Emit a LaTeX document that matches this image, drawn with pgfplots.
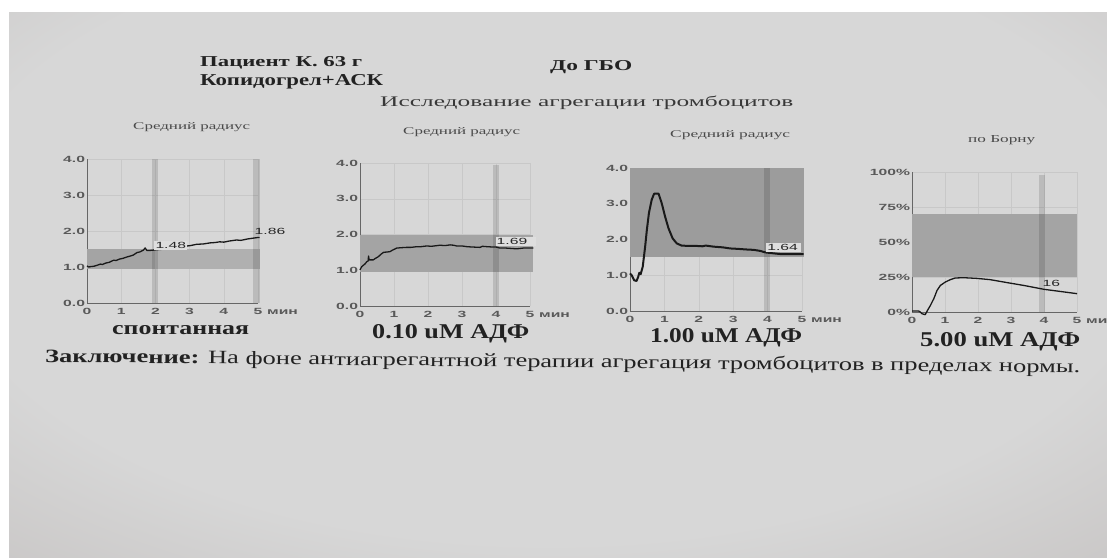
\documentclass[border=0pt]{standalone}
\usepackage{fontspec}
\setmainfont{Liberation Serif}
\newfontfamily\ticksf[FakeStretch=1.75]{Liberation Sans}
\usepackage{graphicx}
\usepackage{pgfplots}
\pgfplotsset{compat=1.18}

\definecolor{ink}{HTML}{222222}
\definecolor{softink}{HTML}{4A4A4A}
\definecolor{paperC}{HTML}{D7D7D7}
\definecolor{paperM}{HTML}{BEBAB9}
\definecolor{paperE}{HTML}{9A9393}
\definecolor{band}{HTML}{A4A4A4}
\definecolor{bandL}{HTML}{B0B0B0}
\definecolor{labelbg}{HTML}{DEDEDE}
\definecolor{gridc}{HTML}{C8C8C8}

\pgfdeclareradialshading{paper}{\pgfpoint{0bp}{0bp}}{%
  color(0bp)=(paperC); color(20bp)=(paperC); color(36bp)=(paperM); color(50bp)=(paperE)}

% text fitted to a measured box: width, height, content
\newcommand\fit[3]{\resizebox{#1bp}{#2bp}{#3}}
\newcommand\tickfont{\ticksf\bfseries\fontsize{9}{10}\selectfont}
\newcommand\valfont{\ticksf\fontsize{9}{10}\selectfont}

\tikzset{
  valbox/.style={fill=labelbg, inner sep=1.2bp, font=\valfont, text=black!85},
  minlabel/.style={anchor=base west, inner sep=0, font=\tickfont, text=black!65},
}
\pgfplotsset{
  agg/.style={
    scale only axis, anchor=south west,
    xmin=0, xmax=5, xtick={0,1,2,3,4,5}, xticklabels={0,1,2,3,4,5},
    axis lines*=left,
    axis line style={draw=black!60, line width=0.6bp},
    major tick length=0pt,
    grid=major,
    major grid style={draw=gridc, line width=0.5bp},
    tick label style={font=\tickfont, text=black!65},
    xticklabel style={anchor=base, yshift=-11bp},
    yticklabel style={xshift=1.5bp},
    clip=false,
  },
  trace/.style={draw=black!90, line width=1.3bp, line join=round},
  vbar/.style={fill=black, fill opacity=0.13, draw=none},
}

\begin{document}
\begin{tikzpicture}[x=1bp, y=-1bp]
\useasboundingbox (0,0) rectangle (1107,558);
\clip (0,0) rectangle (1107,558);
% sheet of paper with uneven lighting
\shade[shading=paper] (-200,-150) rectangle (1300,620);
\fill[white] (0,0) rectangle (1107,12);
\fill[white] (0,0) rectangle (9,558);

% header
\node[anchor=base west, inner sep=0, text=ink] at (200,67) {\fit{162}{10}{\bfseries Пациент К. 63 г}};
\node[anchor=base west, inner sep=0, text=ink] at (200,86) {\fit{183}{11}{\bfseries Копидогрел+АСК}};
\node[anchor=base west, inner sep=0, text=ink] at (550,71) {\fit{82}{10}{\bfseries До ГБО}};
\node[anchor=base west, inner sep=0, text=ink!90] at (380,106.5) {\fit{413}{10.5}{Исследование агрегации тромбоцитов}};

% panel titles
\node[anchor=base west, inner sep=0, text=softink] at (133,130) {\fit{117}{7}{Средний радиус}};
\node[anchor=base west, inner sep=0, text=softink] at (403,134.5) {\fit{117}{7}{Средний радиус}};
\node[anchor=base west, inner sep=0, text=softink] at (670,138) {\fit{120}{7}{Средний радиус}};
\node[anchor=base west, inner sep=0, text=softink] at (968,143) {\fit{67}{7}{по Борну}};

% panel 1: spontaneous
\begin{axis}[agg, at={(87bp,-303bp)}, width=171bp, height=144bp,
  ymin=0, ymax=4, ytick={0,1,2,3,4}, yticklabels={0.0,1.0,2.0,3.0,4.0}]
  \addplot[fill=band, draw=none] coordinates {(0,0.95) (2,0.95) (2,1.5) (0,1.5)};
  \addplot[fill=bandL, draw=none] coordinates {(2,0.95) (5.05,0.95) (5.05,1.5) (2,1.5)};
  \addplot[vbar] coordinates {(1.91,0) (2.09,0) (2.09,4) (1.91,4)};
  \addplot[vbar] coordinates {(4.85,0) (5.05,0) (5.05,4) (4.85,4)};
  \addplot[trace] coordinates {
    (0,1.03) (0.05,1.00) (0.1,1.01) (0.2,1.02) (0.3,1.05) (0.39,1.08) (0.45,1.07)
    (0.55,1.11) (0.65,1.13) (0.78,1.19) (0.85,1.18) (0.95,1.22) (1.05,1.24)
    (1.17,1.28) (1.25,1.30) (1.35,1.33) (1.46,1.40) (1.55,1.42) (1.65,1.47)
    (1.70,1.53) (1.75,1.46) (1.85,1.46) (1.95,1.47) (2.04,1.48) (2.3,1.50)
    (2.6,1.54) (2.86,1.58) (3.0,1.59) (3.2,1.63) (3.4,1.64) (3.6,1.67) (3.75,1.68)
    (3.88,1.70) (4.0,1.69) (4.15,1.72) (4.37,1.75) (4.5,1.74) (4.7,1.78)
    (4.85,1.80) (5.0,1.82) (5.05,1.82)};
  \node[valbox] at (axis cs:2.45,1.6) {1.48};
  \node[valbox, fill=none] at (axis cs:5.35,1.98) {1.86};
  \node[minlabel, xshift=9bp, yshift=-11bp] at (rel axis cs:1,0) {мин};
\end{axis}

% panel 2: 0.10 uM ADP
\begin{axis}[agg, at={(360bp,-306bp)}, width=170bp, height=143bp,
  ymin=0, ymax=4, ytick={0,1,2,3,4}, yticklabels={0.0,1.0,2.0,3.0,4.0}]
  \addplot[fill=band, draw=none] coordinates {(0,0.95) (5.1,0.95) (5.1,2.0) (0,2.0)};
  \addplot[vbar] coordinates {(3.92,0) (4.1,0) (4.1,3.95) (3.92,3.95)};
  \addplot[trace] coordinates {
    (0,1.01) (0.05,1.10) (0.15,1.18) (0.2,1.24) (0.24,1.26) (0.25,1.40) (0.27,1.29)
    (0.39,1.29) (0.45,1.33) (0.54,1.38) (0.62,1.45) (0.69,1.50) (0.88,1.52)
    (0.95,1.56) (1.08,1.62) (1.2,1.63) (1.37,1.64) (1.5,1.64) (1.67,1.66)
    (1.8,1.66) (1.96,1.68) (2.1,1.67) (2.35,1.70) (2.5,1.69) (2.65,1.71)
    (2.75,1.70) (2.84,1.68) (3.0,1.68) (3.14,1.66) (3.3,1.65) (3.53,1.64)
    (3.6,1.67) (3.73,1.66) (3.9,1.65) (4.0,1.65) (4.12,1.62) (4.3,1.62)
    (4.45,1.61) (4.61,1.60) (4.8,1.62) (5.0,1.62) (5.1,1.62)};
  \node[valbox, anchor=west] at (axis cs:3.98,1.8) {1.69\hspace*{8bp}};
  \node[minlabel, xshift=9bp, yshift=-11bp] at (rel axis cs:1,0) {мин};
\end{axis}

% panel 3: 1.00 uM ADP
\begin{axis}[agg, at={(630bp,-311bp)}, width=172bp, height=143bp,
  ymin=0, ymax=4, ytick={0,1,2,3,4}, yticklabels={0.0,1.0,2.0,3.0,4.0}]
  \addplot[fill=band!95!black, draw=none] coordinates {(0,1.52) (5.05,1.52) (5.05,4) (0,4)};
  \addplot[vbar] coordinates {(3.9,0) (4.06,0) (4.06,4) (3.9,4)};
  \addplot[trace, line width=2bp] coordinates {
    (0,1.05) (0.05,1.00) (0.12,0.86) (0.19,0.84) (0.24,0.96) (0.27,1.07) (0.31,1.03)
    (0.37,1.24) (0.44,1.80) (0.49,2.27) (0.55,2.74) (0.63,3.11) (0.70,3.28)
    (0.83,3.28) (0.92,3.02) (1.02,2.64) (1.12,2.31) (1.24,2.03) (1.36,1.89)
    (1.50,1.83) (1.7,1.82) (1.94,1.82) (2.1,1.81) (2.2,1.83) (2.43,1.80)
    (2.7,1.78) (2.91,1.75) (3.1,1.74) (3.4,1.72) (3.6,1.71) (3.79,1.68)
    (3.93,1.64) (4.1,1.62) (4.4,1.59) (4.7,1.59) (5.05,1.59)};
  \node[valbox, anchor=west] at (axis cs:3.95,1.78) {1.64\hspace*{2bp}};
  \node[minlabel, xshift=9bp, yshift=-11bp] at (rel axis cs:1,0) {мин};
\end{axis}

% panel 4: 5.00 uM ADP, Born method
\begin{axis}[agg, at={(912bp,-312bp)}, width=165bp, height=140bp,
  ymin=0, ymax=100, ytick={0,25,50,75,100},
  yticklabels={0\%,25\%,50\%,75\%,100\%}]
  \addplot[fill=band, draw=none] coordinates {(0,25) (5,25) (5,70) (0,70)};
  \addplot[vbar] coordinates {(3.85,0) (4.03,0) (4.03,98) (3.85,98)};
  \addplot[trace] coordinates {
    (0,0.7) (0.2,0.7) (0.25,0) (0.3,-1.2) (0.4,-1.9) (0.47,1.2) (0.56,4.8)
    (0.66,9.5) (0.76,15.5) (0.86,19) (1.01,21.4) (1.16,23.1) (1.31,24.3)
    (1.57,24.5) (1.97,24.0) (2.37,23.1) (2.88,21.0) (3.38,19.0) (3.89,16.7)
    (4.0,16.2) (4.39,15.0) (5.0,13.1)};
  \node[valbox, fill=none] at (axis cs:4.22,20.5) {16};
  \node[minlabel, xshift=9bp, yshift=-11bp] at (rel axis cs:1,0) {мин};
\end{axis}

% captions under the panels
\node[anchor=base west, inner sep=0, text=ink] at (112,335) {\fit{137}{9}{\bfseries спонтанная}};
\node[anchor=base west, inner sep=0, text=ink] at (372,339) {\fit{157}{14}{\bfseries 0.10 uM АДФ}};
\node[anchor=base west, inner sep=0, text=ink] at (650,343) {\fit{152}{14}{\bfseries 1.00 uM АДФ}};
\node[anchor=base west, inner sep=0, text=ink] at (920,347) {\fit{160}{14}{\bfseries 5.00 uM АДФ}};

% conclusion
\node[anchor=base west, inner sep=0, rotate=-0.6, text=ink] at (45,362)
  {\fit{1035}{13.5}{\textbf{Заключение:} На фоне антиагрегантной терапии агрегация тромбоцитов в пределах нормы.}};
\end{tikzpicture}
\end{document}
